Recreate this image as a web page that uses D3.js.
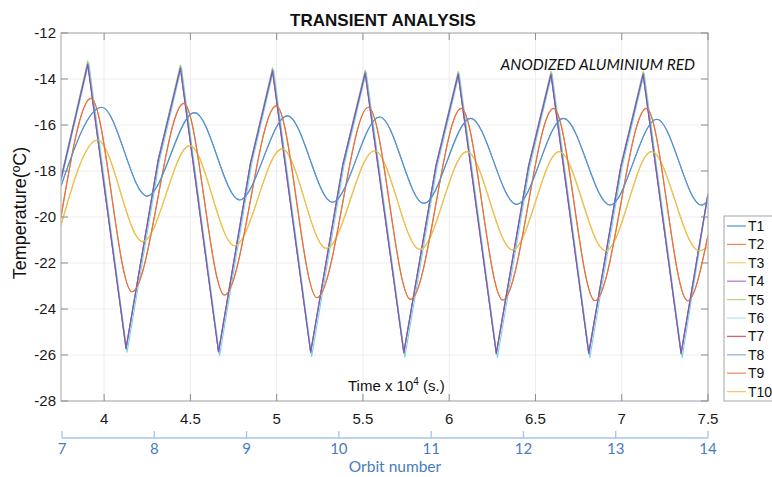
<!DOCTYPE html>
<html>
<head>
<meta charset="utf-8">
<script src="https://cdn.jsdelivr.net/npm/d3@7"></script>
<style>
  body { margin: 0; background: #fff; }
  svg { display: block; font-family: "Liberation Sans", Arial, sans-serif; }
</style>
</head>
<body>
<div id="chart"></div>
<script>
// time in units of 10^4 s, temperature in ºC
const blueTime   = [3.75, 3.986, 4.249, 4.524, 4.785, 5.062, 5.323, 5.597, 5.853, 6.124, 6.391, 6.662, 6.932, 7.203, 7.462, 7.5];
const blueTemp   = [-18.65, -15.23, -19.09, -15.46, -19.26, -15.60, -19.36, -15.65, -19.41, -15.71, -19.45, -15.71, -19.48, -15.75, -19.48, -19.30];

const orangeTime = [3.75, 3.924, 4.162, 4.462, 4.698, 4.998, 5.234, 5.532, 5.776, 6.070, 6.311, 6.605, 6.845, 7.143, 7.382, 7.5];
const orangeTemp = [-20.0, -14.84, -23.25, -15.06, -23.39, -15.17, -23.51, -15.23, -23.58, -15.28, -23.61, -15.28, -23.64, -15.28, -23.64, -20.8];

const yellowTime = [3.75, 3.961, 4.224, 4.496, 4.756, 5.031, 5.288, 5.567, 5.830, 6.102, 6.367, 6.637, 6.907, 7.172, 7.449, 7.5];
const yellowTemp = [-20.35, -16.65, -21.07, -16.90, -21.25, -17.04, -21.36, -17.12, -21.41, -17.16, -21.43, -17.16, -21.47, -17.16, -21.47, -21.3];

const sawTime  = [3.75, 3.905, 4.127, 4.313, 4.442, 4.663, 4.848, 4.976, 5.197, 5.383, 5.513, 5.737, 5.923, 6.052, 6.273, 6.460, 6.590, 6.809, 6.995, 7.124, 7.344, 7.5];
const purpleTemp = [-18.35, -13.36, -25.71, -17.55, -13.53, -25.86, -17.68, -13.65, -25.88, -17.75, -13.75, -25.90, -17.79, -13.80, -25.93, -17.80, -13.80, -25.93, -17.80, -13.80, -25.93, -19.0];
const greenTemp  = [-18.30, -13.22, -25.72, -17.50, -13.40, -25.87, -17.63, -13.52, -25.89, -17.70, -13.62, -25.91, -17.74, -13.68, -25.94, -17.75, -13.68, -25.94, -17.75, -13.68, -25.94, -18.95];
const cyanTime = [3.75, 3.911, 4.133, 4.319, 4.448, 4.669, 4.854, 4.982, 5.203, 5.389, 5.519, 5.743, 5.929, 6.058, 6.279, 6.466, 6.596, 6.815, 7.001, 7.130, 7.350, 7.5];
const cyanTemp   = [-18.45, -13.30, -25.88, -17.60, -13.48, -26.03, -17.72, -13.60, -26.06, -17.80, -13.70, -26.08, -17.83, -13.75, -26.12, -17.85, -13.75, -26.12, -17.85, -13.75, -26.12, -19.05];

const seriesNames  = ["T1", "T2", "T3", "T4", "T5", "T6", "T7", "T8", "T9", "T10"];
const seriesColors = ["#5593d0", "#e5733f", "#edc050", "#7d4fcc", "#93c456", "#7ad2ea", "#c9495f", "#6fa3dc", "#ee7e50", "#f0c45a"];
const legendColors = ["#5b9bd5", "#ec8a62", "#f1d27c", "#b27fdc", "#b4dc7c", "#b4e6f2", "#d0616f", "#8fb5e8", "#f08e66", "#f2ca6c"];
const seriesTimes  = [blueTime, orangeTime, yellowTime, sawTime, sawTime, cyanTime, sawTime, blueTime, orangeTime, yellowTime];
const seriesTemps  = [blueTemp, orangeTemp, yellowTemp, purpleTemp, greenTemp, cyanTemp, purpleTemp, blueTemp, orangeTemp, yellowTemp];
const seriesSaw    = [false, false, false, true, true, true, true, false, false, false];

const timeTicks  = [4, 4.5, 5, 5.5, 6, 6.5, 7, 7.5];
const tempTicks  = [-12, -14, -16, -18, -20, -22, -24, -26, -28];
const orbitTicks = [7, 8, 9, 10, 11, 12, 13, 14];

const W = 772, H = 477;
const pL = 61, pR = 708, pT = 33, pB = 401;

const svg = d3.select("#chart").append("svg")
    .attr("width", W)
    .attr("height", H);

const x = d3.scaleLinear().domain([3.75, 7.5]).range([pL, pR]);
const y = d3.scaleLinear().domain([-28, -12]).range([pB, pT]);
const orbit = d3.scaleLinear().domain([7, 14]).range([pL + 1, pR]);

// grid
svg.append("g").selectAll("line")
  .data(timeTicks).enter().append("line")
    .attr("x1", d => x(d)).attr("x2", d => x(d))
    .attr("y1", pT).attr("y2", pB)
    .attr("stroke", "#ededed").attr("stroke-width", 1);
svg.append("g").selectAll("line")
  .data(tempTicks).enter().append("line")
    .attr("x1", pL).attr("x2", pR)
    .attr("y1", d => y(d)).attr("y2", d => y(d))
    .attr("stroke", "#ededed").attr("stroke-width", 1);

// curves
svg.append("clipPath").attr("id", "clip")
  .append("rect").attr("x", pL).attr("y", pT).attr("width", pR - pL).attr("height", pB - pT);

const plot = svg.append("g").attr("clip-path", "url(#clip)");
const order = d3.range(seriesNames.length).reverse();
order.forEach(i => {
  const pts = seriesTimes[i].map((t, k) => [t, seriesTemps[i][k]]);
  const line = d3.line()
      .x(d => x(d[0]))
      .y(d => y(d[1]))
      .curve(seriesSaw[i] ? d3.curveLinear : d3.curveMonotoneX);
  plot.append("path")
      .datum(pts)
      .attr("fill", "none")
      .attr("stroke", seriesColors[i])
      .attr("stroke-width", 1.15)
      .attr("stroke-linejoin", "round")
      .attr("d", line);
});

// box + ticks
svg.append("rect")
    .attr("x", pL).attr("y", pT)
    .attr("width", pR - pL).attr("height", pB - pT)
    .attr("fill", "none").attr("stroke", "#b4b4b4").attr("stroke-width", 1.2);

const tk = svg.append("g").attr("stroke", "#8c8c8c").attr("stroke-width", 1);
timeTicks.forEach(d => {
  tk.append("line").attr("x1", x(d)).attr("x2", x(d)).attr("y1", pB).attr("y2", pB - 7);
  tk.append("line").attr("x1", x(d)).attr("x2", x(d)).attr("y1", pT).attr("y2", pT + 7);
});
tempTicks.forEach(d => {
  tk.append("line").attr("x1", pL).attr("x2", pL + 7).attr("y1", y(d)).attr("y2", y(d));
  tk.append("line").attr("x1", pR).attr("x2", pR - 7).attr("y1", y(d)).attr("y2", y(d));
});

svg.append("g").selectAll("text")
  .data(timeTicks).enter().append("text")
    .attr("x", d => x(d)).attr("y", 424)
    .attr("text-anchor", "middle")
    .attr("font-size", 15).attr("fill", "#1a1a1a")
    .text(d => d);

svg.append("g").selectAll("text")
  .data(tempTicks).enter().append("text")
    .attr("x", 56).attr("y", d => y(d) + 5)
    .attr("text-anchor", "end")
    .attr("font-size", 15).attr("fill", "#1a1a1a")
    .text(d => d);

// titles
svg.append("text")
    .attr("x", 383).attr("y", 26)
    .attr("text-anchor", "middle")
    .attr("font-size", 17).attr("font-weight", "bold").attr("fill", "#111")
    .text("TRANSIENT ANALYSIS");

svg.append("text")
    .attr("x", 695).attr("y", 70)
    .attr("text-anchor", "end")
    .attr("font-family", "Lato, 'Open Sans', sans-serif")
    .attr("font-style", "italic")
    .attr("font-size", 15.5).attr("fill", "#111")
    .text("ANODIZED ALUMINIUM RED");

svg.append("text")
    .attr("transform", "translate(26,213) rotate(-90)")
    .attr("text-anchor", "middle")
    .attr("font-size", 18).attr("fill", "#111")
    .text("Temperature(ºC)");

const tl = svg.append("text")
    .attr("x", 348).attr("y", 391)
    .attr("font-size", 15).attr("fill", "#111");
tl.append("tspan").text("Time x 10");
tl.append("tspan").attr("font-size", 10).attr("dy", -6).text("4");
tl.append("tspan").attr("dy", 6).text(" (s.)");

// orbit axis
const ob = svg.append("g");
ob.append("line")
    .attr("x1", orbit(7)).attr("x2", orbit(14)).attr("y1", 438).attr("y2", 438)
    .attr("stroke", "#a9c3e5").attr("stroke-width", 1.3);
ob.selectAll("line.t")
  .data(orbitTicks).enter().append("line")
    .attr("class", "t")
    .attr("x1", d => orbit(d)).attr("x2", d => orbit(d))
    .attr("y1", 438).attr("y2", 431)
    .attr("stroke", "#a9c3e5").attr("stroke-width", 1.3);
ob.selectAll("text")
  .data(orbitTicks).enter().append("text")
    .attr("x", d => orbit(d)).attr("y", 454)
    .attr("text-anchor", "middle")
    .attr("font-family", "Lato, 'Open Sans', sans-serif")
    .attr("font-size", 15).attr("fill", "#4a7cbd")
    .text(d => d);
ob.append("text")
    .attr("x", 395).attr("y", 472)
    .attr("text-anchor", "middle")
    .attr("font-family", "Lato, 'Open Sans', sans-serif")
    .attr("font-size", 15.5).attr("fill", "#4a7cbd")
    .text("Orbit number");

// legend
const lg = svg.append("g");
lg.append("rect")
    .attr("x", 724).attr("y", 216).attr("width", 60).attr("height", 185)
    .attr("fill", "#fff").attr("stroke", "#a6a6a6").attr("stroke-width", 1);
seriesNames.forEach((name, i) => {
  const cy = 226 + i * 18.4;
  lg.append("line")
      .attr("x1", 727).attr("x2", 746).attr("y1", cy).attr("y2", cy)
      .attr("stroke", legendColors[i]).attr("stroke-width", 1.3);
  lg.append("text")
      .attr("x", 748).attr("y", cy + 5)
      .attr("font-size", 14).attr("fill", "#111")
      .text(name);
});
</script>
</body>
</html>
